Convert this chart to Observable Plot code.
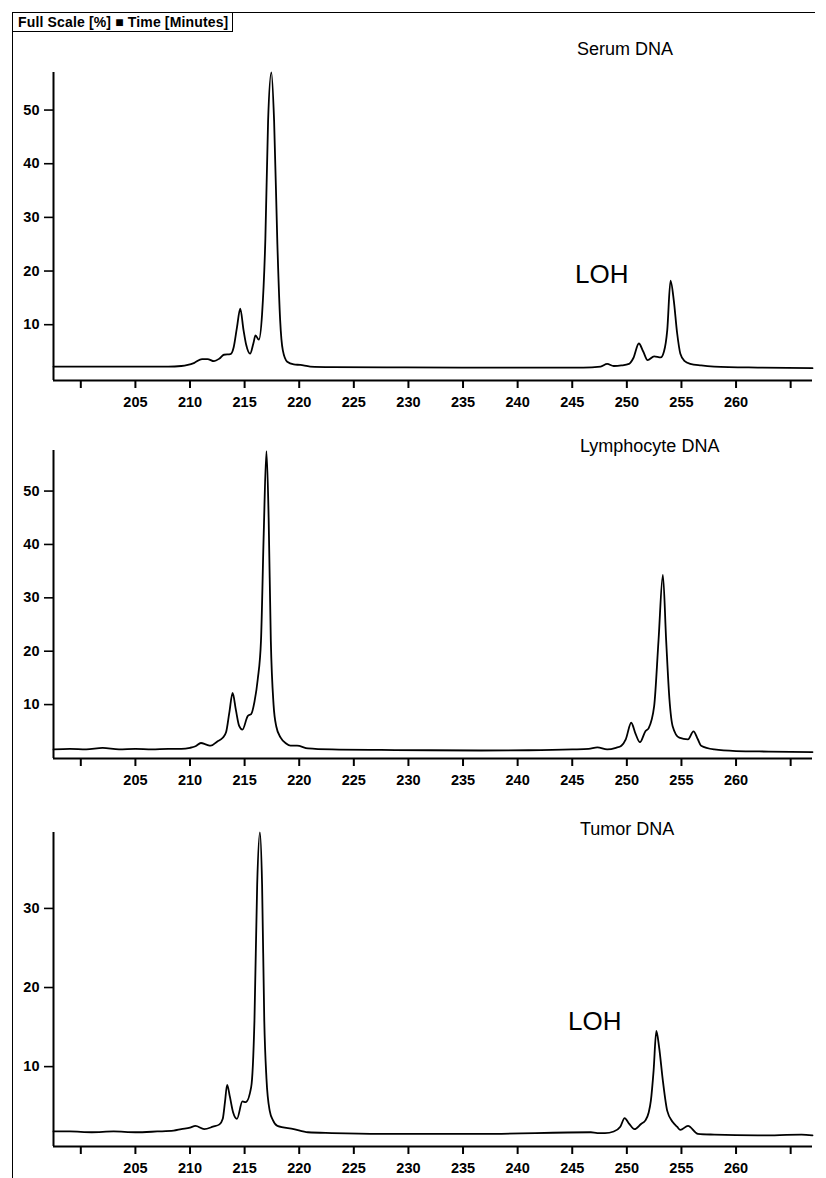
<!DOCTYPE html>
<html>
<head>
<meta charset="utf-8">
<script src="https://cdn.jsdelivr.net/npm/d3@7"></script>
<script src="https://cdn.jsdelivr.net/npm/@observablehq/plot@0.6"></script>
<style>
  html, body { margin: 0; padding: 0; background: #fff; }
  #page { position: relative; width: 826px; height: 1178px; overflow: hidden; background: #fff;
          font-family: "Liberation Sans", Arial, Helvetica, sans-serif; color: #000; }
  .abs { position: absolute; white-space: nowrap; line-height: 1; }
  .panel svg { overflow: visible; }
</style>
</head>
<body>
<div id="page"></div>
<script>
// ---------------- DATA ----------------
const panelTitles = ["Serum DNA", "Lymphocyte DNA", "Tumor DNA"];
const headerText = "Full Scale [%] \u25A0 Time [Minutes]";
const lohLabel = "LOH";

const xTicks = [200, 205, 210, 215, 220, 225, 230, 235, 240, 245, 250, 255, 260, 265];
const xTickLabels = ["", "205", "210", "215", "220", "225", "230", "235", "240", "245", "250", "255", "260", ""];
const yTicksSerum = [10, 20, 30, 40, 50];
const yTicksLymph = [10, 20, 30, 40, 50];
const yTicksTumor = [10, 20, 30];

// Serum DNA trace (time in minutes, signal in % full scale)
const serumTime = [197.5, 200, 203, 206, 208, 209.2, 209.8, 210.4, 211.1, 211.6, 212.2, 212.7, 213.1, 213.7,
  214.0, 214.3, 214.6, 214.9, 215.15, 215.5, 215.8, 216.0, 216.3, 216.6, 216.9, 217.15, 217.45, 217.7,
  218.0, 218.25, 218.5, 218.9, 219.5, 220.1, 221, 223, 228, 235, 242, 246, 247.6, 248.2, 248.8, 249.5,
  250.2, 250.6, 251.1, 251.5, 251.9, 252.5, 253.1, 253.4, 253.7, 254.0, 254.3, 254.6, 254.9, 255.3,
  255.8, 256.8, 258, 262, 267];
const serumSignal = [2.2, 2.2, 2.2, 2.2, 2.2, 2.3, 2.5, 2.9, 3.6, 3.6, 3.2, 3.7, 4.4, 4.5,
  5.8, 9.5, 13.0, 9.0, 6.2, 4.6, 6.5, 8.0, 7.2, 12, 26, 48, 57, 48,
  25, 11, 5.2, 3.1, 2.6, 2.5, 2.2, 2.1, 2.05, 2.0, 2.0, 2.0, 2.2, 2.7, 2.3, 2.4,
  2.7, 3.8, 6.5, 5.0, 3.4, 4.1, 3.9, 5.0, 9.0, 18.2, 14.5, 8.5, 4.6, 3.2,
  2.7, 2.4, 2.2, 2.0, 1.9];

// Lymphocyte DNA trace
const lymphTime = [197.5, 199, 200.5, 202, 203.5, 205, 206.5, 208, 209.2, 210, 210.5, 211.0, 211.5, 211.9,
  212.5, 213.0, 213.3, 213.6, 213.9, 214.2, 214.5, 214.8, 215.3, 215.6, 215.9, 216.2, 216.5, 216.75,
  217.0, 217.2, 217.4, 217.65, 217.9, 218.3, 218.8, 219.2, 219.8, 220.8, 223, 227.5, 232, 236.6, 241,
  245, 246.5, 247.3, 248.2, 249.0, 249.5, 249.9, 250.4, 250.8, 251.2, 251.7, 252.0, 252.5, 252.9,
  253.3, 253.6, 253.9, 254.2, 254.8, 255.6, 256.1, 256.5, 256.8, 258.0, 260, 263, 267];
const lymphSignal = [1.6, 1.7, 1.6, 1.9, 1.6, 1.7, 1.6, 1.7, 1.7, 1.9, 2.2, 2.8, 2.5, 2.3,
  3.1, 3.8, 4.8, 8.5, 12.2, 9.0, 6.0, 5.3, 7.9, 8.2, 10.5, 14.7, 22, 42,
  57.5, 45, 22, 10, 5.9, 3.8, 2.7, 2.3, 2.3, 1.8, 1.6, 1.5, 1.45, 1.4, 1.45,
  1.6, 1.7, 2.0, 1.6, 1.9, 2.3, 3.5, 6.6, 4.5, 2.95, 5.0, 5.6, 9.7, 22,
  34.3, 22, 11, 5.9, 3.8, 3.5, 5.0, 3.5, 2.3, 1.6, 1.3, 1.2, 1.1];

// Tumor DNA trace
const tumorTime = [197.5, 199, 201, 203, 205, 207, 208.5, 209.2, 210.0, 210.5, 211.3, 212.1, 212.7, 213.0,
  213.2, 213.4, 213.65, 213.95, 214.3, 214.8, 215.1, 215.6, 215.9, 216.15, 216.4, 216.6, 216.8, 217.0,
  217.3, 217.6, 218.0, 219.5, 220.8, 223, 227.5, 236.6, 246.7, 247.3, 248, 248.8, 249.4, 249.8, 250.2,
  250.7, 251.3, 251.7, 252.0, 252.2, 252.45, 252.7, 252.95, 253.3, 253.7, 254.2, 254.6, 254.9, 255.6,
  256.5, 258, 262, 266, 267];
const tumorSignal = [1.8, 1.8, 1.7, 1.8, 1.7, 1.8, 1.9, 2.1, 2.3, 2.5, 2.1, 2.4, 2.7, 3.4,
  5.5, 7.7, 6.2, 4.2, 3.4, 5.6, 5.5, 7.4, 15.8, 33, 39.6, 33, 15.8, 8.5,
  4.4, 3.2, 2.5, 2.1, 1.7, 1.6, 1.5, 1.5, 1.7, 1.6, 1.6, 1.8, 2.4, 3.5, 2.8,
  2.1, 2.75, 3.2, 4.2, 5.7, 9.5, 14.5, 12.5, 8.2, 4.4, 3.0, 2.4, 2.0, 2.5,
  1.5, 1.4, 1.3, 1.4, 1.3];

// ---------------- LAYOUT ----------------
const W = 826;
const xDomain = [197.5, 267];
const page = document.getElementById("page");
const FONT = "'Liberation Sans', Arial, Helvetica, sans-serif";

function addDiv(text, css) {
  const d = document.createElement("div");
  d.className = "abs";
  d.textContent = text;
  Object.assign(d.style, css);
  page.appendChild(d);
  return d;
}

// outer frame lines
const frameTop = document.createElement("div");
Object.assign(frameTop.style, {position: "absolute", left: "12px", top: "12px", width: "803px", height: "0", borderTop: "1.5px solid #000"});
page.appendChild(frameTop);
const frameLeft = document.createElement("div");
Object.assign(frameLeft.style, {position: "absolute", left: "12px", top: "12px", width: "0", height: "1166px", borderLeft: "1.5px solid #000"});
page.appendChild(frameLeft);

// header box
addDiv(headerText, {left: "12px", top: "12px", width: "214px", height: "15px", padding: "2px 0 1px 5px",
  border: "1.5px solid #000", fontSize: "14px", fontWeight: "bold", letterSpacing: "0.15px"});

function panel({time, signal, yDomain, yTicks, top, plotTop, plotBottom}) {
  const data = time.map((t, i) => ({t, v: signal[i]}));
  const marginTop = plotTop - top;
  const height = 380;
  const marginBottom = height - (plotBottom - top);
  const chart = Plot.plot({
    width: W,
    height,
    marginLeft: 53,
    marginRight: W - 812,
    marginTop,
    marginBottom,
    style: {fontFamily: FONT, fontSize: "14px", fontWeight: "bold", color: "#000", background: "transparent"},
    x: {domain: xDomain, label: null},
    y: {domain: yDomain, label: null},
    marks: [
      Plot.axisX({ticks: xTicks, tickFormat: (d) => xTickLabels[xTicks.indexOf(d)], tickSize: 8, tickPadding: 8,
        strokeWidth: 2, fontSize: 14.5, fontWeight: "bold", fontFamily: FONT, label: null}),
      Plot.axisY({ticks: yTicks, tickSize: 9, tickPadding: 5, strokeWidth: 1.6,
        fontSize: 14.5, fontWeight: "bold", fontFamily: FONT, label: null}),
      Plot.ruleY([yDomain[0]], {x1: xDomain[0], x2: xDomain[1], strokeWidth: 2}),
      Plot.ruleX([xDomain[0]], {y1: yDomain[0], y2: yDomain[1], strokeWidth: 2}),
      Plot.line(data, {x: "t", y: "v", curve: "monotone-x", stroke: "#000", strokeWidth: 1.8})
    ]
  });
  const wrap = document.createElement("div");
  wrap.className = "panel";
  Object.assign(wrap.style, {position: "absolute", left: "0px", top: top + "px"});
  wrap.appendChild(chart);
  page.appendChild(wrap);
}

panel({time: serumTime, signal: serumSignal, yDomain: [-0.4, 57], yTicks: yTicksSerum, top: 40, plotTop: 72, plotBottom: 380});
panel({time: lymphTime, signal: lymphSignal, yDomain: [-0.1, 57.6], yTicks: yTicksLymph, top: 420, plotTop: 450, plotBottom: 758});
panel({time: tumorTime, signal: tumorSignal, yDomain: [-0.1, 39.6], yTicks: yTicksTumor, top: 800, plotTop: 832, plotBottom: 1146});

// titles and annotations
addDiv(panelTitles[0], {left: "577px", top: "40px", fontSize: "18px"});
addDiv(panelTitles[1], {left: "580px", top: "437px", fontSize: "18px"});
addDiv(panelTitles[2], {left: "580px", top: "820px", fontSize: "18px"});
addDiv(lohLabel, {left: "575px", top: "261px", fontSize: "26px"});
addDiv(lohLabel, {left: "568px", top: "1008px", fontSize: "26px"});
</script>
</body>
</html>
